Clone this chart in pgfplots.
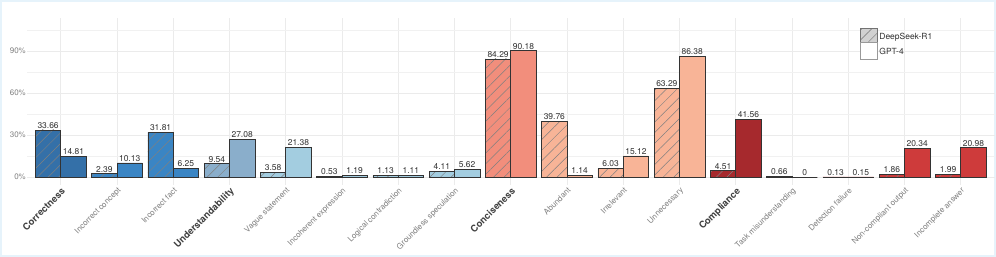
\documentclass[border=0pt]{standalone}
\usepackage{fontspec}
\setmainfont{TeX Gyre Heros}
\usepackage{pgfplots}
\pgfplotsset{compat=1.18}
\usetikzlibrary{patterns.meta}
\definecolor{cA}{HTML}{3470A8}
\definecolor{cB}{HTML}{3A85C4}
\definecolor{cC}{HTML}{8AAECB}
\definecolor{cD}{HTML}{A3CDE0}
\definecolor{cE}{HTML}{F28E7C}
\definecolor{cF}{HTML}{F8B497}
\definecolor{cG}{HTML}{A6292D}
\definecolor{cH}{HTML}{CE3B3B}
\definecolor{gridc}{HTML}{EBEBEB}
\definecolor{borderc}{HTML}{E6F3FB}
\newcommand{\bl}[1]{{\fontsize{9.5}{11}\selectfont\bfseries\color{black!75}#1}}
\newcommand{\nl}[1]{{\fontsize{8}{10}\selectfont\color{black!50}#1}}
\begin{document}
\begin{tikzpicture}
\useasboundingbox (0,0) rectangle (996bp,257bp);
\fill[white] (0,0) rectangle (996bp,257bp);
\draw[color=borderc, line width=2bp] (1bp,1bp) rectangle (995bp,256bp);
\begin{axis}[
  at={(27bp,72.4bp)}, anchor=south west,
  scale only axis, width=967.5bp, height=166.4bp,
  xmin=-0.6, xmax=16.6, ymin=-5.4, ymax=113.4,
  ybar, bar width=0.45,
  axis line style={draw=none},
  tick style={draw=none},
  major tick length=0pt,
  xtick={0,...,16},
  xticklabels={
    \bl{Correctness},\nl{Incorrect concept},\nl{Incorrect fact},
    \bl{Understandability},\nl{Vague statement},\nl{Incoherent expression},
    \nl{Logical contradiction},\nl{Groundless speculation},
    \bl{Conciseness},\nl{Abundant},\nl{Irrelevant},\nl{Unnecessary},
    \bl{Compliance},\nl{Task misunderstanding},\nl{Detection failure},
    \nl{Non-compliant output},\nl{Incomplete answer}},
  xticklabel style={rotate=45, anchor=north east, inner sep=1.5bp},
  ytick={0,30,60,90},
  yticklabels={0\%,30\%,60\%,90\%},
  yticklabel style={font=\fontsize{8}{10}\selectfont, color=black!50, inner sep=1bp},
  minor ytick={15,45,75,105},
  xmajorgrids, ymajorgrids, yminorgrids,
  major grid style={color=gridc, line width=0.8bp},
  minor grid style={color=gridc!70, line width=0.6bp},
  nodes near coords, point meta=explicit symbolic,
  every node near coord/.append style={font=\fontsize{8.5}{10}\selectfont, color=black!80, inner sep=1.2bp, anchor=south},
  ds/.style={bar shift=-0.225, draw=black!80, line width=0.6bp,
    postaction={pattern={Lines[angle=45,distance=7.5bp,line width=0.5bp]}, pattern color=black!50}},
  gp/.style={bar shift=0.225, draw=black!80, line width=0.6bp},
  legend style={at={(0.858,0.955)}, anchor=north west, draw=none, fill=none,
    font=\fontsize{8.5}{10}\selectfont, text=black!80, row sep=-3bp,
    nodes={inner sep=1.5bp}},
  legend cell align=left,
]
% DeepSeek-R1
\addplot[ds, fill=cA, forget plot] coordinates {(0,33.66) [33.66]};
\addplot[ds, fill=cB, forget plot] coordinates {(1,2.39) [2.39] (2,31.81) [31.81]};
\addplot[ds, fill=cC, forget plot] coordinates {(3,9.54) [9.54]};
\addplot[ds, fill=cD, forget plot] coordinates {(4,3.58) [3.58] (5,0.53) [0.53] (6,1.13) [1.13] (7,4.11) [4.11]};
\addplot[ds, fill=cE, forget plot] coordinates {(8,84.29) [84.29]};
\addplot[ds, fill=cF, forget plot] coordinates {(9,39.76) [39.76] (10,6.03) [6.03] (11,63.29) [63.29]};
\addplot[ds, fill=cG, forget plot] coordinates {(12,4.51) [4.51]};
\addplot[ds, fill=cH, forget plot] coordinates {(13,0.66) [0.66] (14,0.13) [0.13] (15,1.86) [1.86] (16,1.99) [1.99]};
% GPT-4
\addplot[gp, fill=cA, forget plot] coordinates {(0,14.81) [14.81]};
\addplot[gp, fill=cB, forget plot] coordinates {(1,10.13) [10.13] (2,6.25) [6.25]};
\addplot[gp, fill=cC, forget plot] coordinates {(3,27.08) [27.08]};
\addplot[gp, fill=cD, forget plot] coordinates {(4,21.38) [21.38] (5,1.19) [1.19] (6,1.11) [1.11] (7,5.62) [5.62]};
\addplot[gp, fill=cE, forget plot] coordinates {(8,90.18) [90.18]};
\addplot[gp, fill=cF, forget plot] coordinates {(9,1.14) [1.14] (10,15.12) [15.12] (11,86.38) [86.38]};
\addplot[gp, fill=cG, forget plot] coordinates {(12,41.56) [41.56]};
\addplot[gp, fill=cH, forget plot] coordinates {(13,0) [0] (14,0.15) [0.15] (15,20.34) [20.34] (16,20.98) [20.98]};
\addlegendimage{legend image code/.code={\draw[draw=black!55, line width=0.6bp, fill=black!18, postaction={pattern={Lines[angle=45,distance=7bp,line width=0.5bp]}, pattern color=black!55}] (0bp,-8bp) rectangle (17bp,9bp);}}
\addlegendentry{DeepSeek-R1}
\addlegendimage{legend image code/.code={\draw[draw=black!40, line width=0.6bp, fill=white] (0bp,-8bp) rectangle (17bp,9bp);}}
\addlegendentry{GPT-4}
\end{axis}
\end{tikzpicture}
\end{document}
